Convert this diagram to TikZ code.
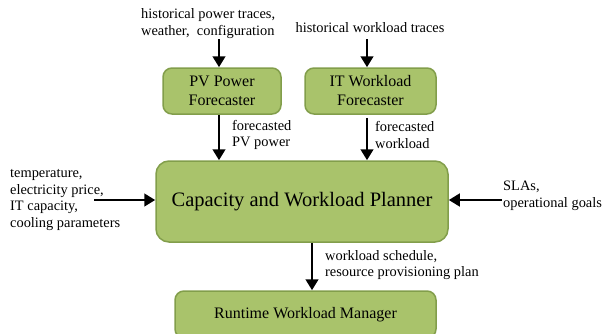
\documentclass[tikz,border=0pt]{standalone}
\usepackage{fontspec}
\setmainfont{Liberation Serif}
\usetikzlibrary{arrows.meta}
\definecolor{boxfill}{RGB}{169,195,107}
\definecolor{boxline}{RGB}{130,158,75}
\begin{document}
\begin{tikzpicture}[x=1pt,y=-1pt,
  gbox/.style={draw=boxline,fill=boxfill,line width=1.5pt,rounded corners=9pt,inner sep=0pt,align=center},
  boxtxt/.style={font=\fontsize{16}{19}\selectfont},
  smalltxt/.style={inner sep=0pt,align=left,font=\fontsize{14.4}{16.5}\selectfont},
  flow/.style={line width=2.8pt,-{Triangle[length=11pt,width=12.5pt]}}]
\useasboundingbox (0,0) rectangle (606,333);
% boxes
\node[gbox,boxtxt,minimum width=118pt,minimum height=46pt] (pv) at (222,91) {PV Power\\Forecaster};
\node[gbox,boxtxt,minimum width=131pt,minimum height=46pt] (it) at (370.5,91) {IT Workload\\Forecaster};
\node[gbox,rounded corners=13pt,minimum width=292pt,minimum height=81pt,font=\fontsize{20.5}{24}\selectfont] (cap) at (302,201.5) {Capacity and Workload Planner};
\node[gbox,boxtxt,minimum width=261pt,minimum height=47pt] (rwm) at (305.5,314.5) {Runtime Workload Manager};
% texts
\node[smalltxt,anchor=west] (hp) at (141,23.7) {historical power traces,\\weather,\ \ configuration};
\node[smalltxt] (hw) at (370,27.3) {historical workload traces};
\node[smalltxt,anchor=west] (fp) at (232,135) {forecasted\\PV power};
\node[smalltxt,anchor=west] (fw) at (375,135) {forecasted\\workload};
\node[smalltxt,anchor=west] (env) at (10,200) {temperature,\\electricity price,\\IT capacity,\\cooling parameters};
\node[smalltxt,anchor=west] (sla) at (503,196) {SLAs,\\operational goals};
\node[smalltxt,anchor=west] (ws) at (325,265) {workload schedule,\\resource provisioning plan};
% free ends
\coordinate (hpend) at (219,39);
\coordinate (hwend) at (367,39);
\coordinate (envend) at (94,200);
\coordinate (slaend) at (502,200);
% connectors
\draw[flow] (hpend) -- (hpend |- pv.north);
\draw[flow] (hwend) -- (hwend |- it.north);
\draw[flow] (hpend |- pv.south) -- (hpend |- cap.north);
\draw[flow,shorten <=3pt] (hwend |- it.south) -- (hwend |- cap.north);
\draw[flow] (envend) -- (envend -| cap.west);
\draw[flow] (slaend) -- (slaend -| cap.east);
\draw[flow] (312,0 |- cap.south) -- (312,0 |- rwm.north);
\end{tikzpicture}
\end{document}
